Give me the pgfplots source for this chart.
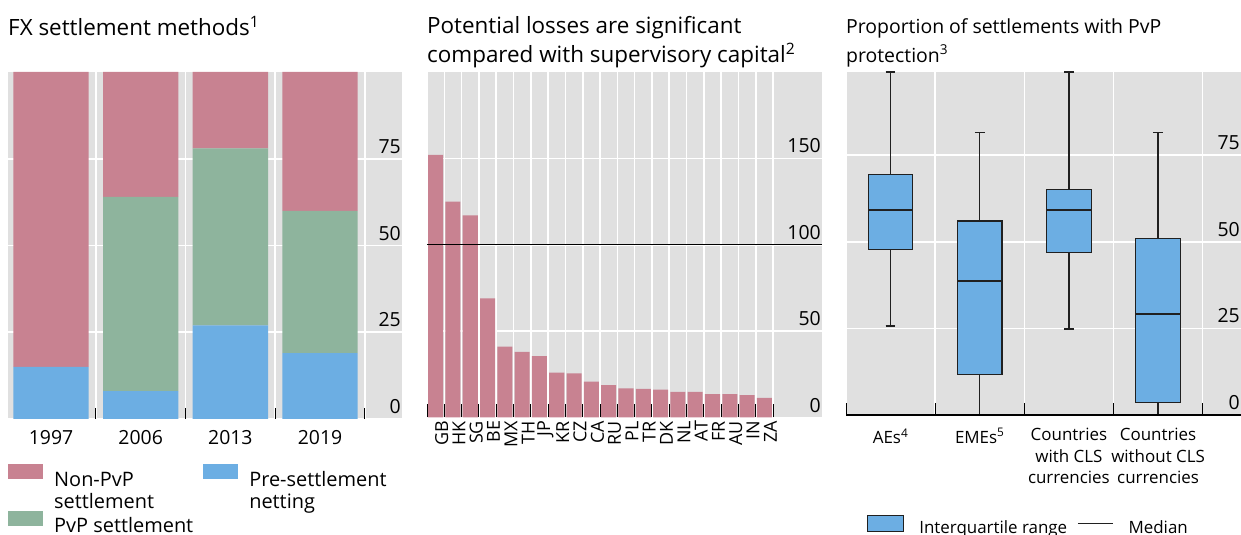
\documentclass[border=0pt]{standalone}
\usepackage{pgfplots}
\pgfplotsset{compat=1.18}
\usepgfplotslibrary{statistics}
\usepackage{fontspec}
\setmainfont{Open Sans}
\definecolor{cpink}{HTML}{C88291}
\definecolor{cgreen}{HTML}{8EB49D}
\definecolor{cblue}{HTML}{6CAEE3}
\definecolor{cbg}{HTML}{E0E0E0}
\definecolor{cdark}{HTML}{202020}
\newcommand{\fs}[2]{\fontsize{#1}{#2}\selectfont}
\newcommand{\ml}[1]{\begin{tabular}[t]{@{}l@{}}#1\end{tabular}}
\pgfplotsset{
  panel/.style={
    scale only axis, anchor=south west, clip=false,
    axis background/.style={fill=cbg},
    axis line style={draw=none},
    tick align=inside, xtick pos=bottom, ytick pos=right,
    major tick length=0pt, minor tick length=11bp,
    minor tick style={black, line width=0.9bp},
    ymajorgrids, xminorgrids,
    major grid style={white, line width=1.6bp},
    minor grid style={white, line width=1.6bp},
    yticklabel pos=right,
    yticklabel style={anchor=south east, inner xsep=1bp, inner ysep=5bp, font=\fs{19.5}{22}},
    /pgf/number format/assume math mode=true,
    title style={at={(0,1)}, anchor=base west, inner sep=0pt, align=left, font=\fs{22.5}{28.5}},
    legend style={draw=none, fill=none, inner sep=0pt, font=\fs{20}{22.5}},
    legend cell align=left,
  }
}
\begin{document}
\begin{tikzpicture}
\useasboundingbox (0,0) rectangle (1241bp,535bp);

% Panel 1
\begin{axis}[panel, at={(8bp,116bp)}, width=394bp, height=347bp,
  xmin=-0.48, xmax=3.914, ymin=0, ymax=100,
  ytick={0,25,50,75},
  xtick={0,1,2,3}, xticklabels={1997,2006,2013,2019},
  minor xtick={-0.5,0.5,1.5,2.5,3.5},
  xticklabel style={font=\fs{19.5}{22}, yshift=-8bp},
  ybar stacked, bar width=0.84,
  title={FX settlement methods\textsuperscript{1}},
  title style={yshift=31bp},
  legend columns=2,
  legend style={at={(0,-0.13)}, anchor=north west, row sep=21bp,
    /tikz/every even column/.append style={column sep=10bp},
    /tikz/every odd column/.append style={column sep=11bp},
    nodes={inner xsep=0pt}},
  legend image code/.code={\path[#1] (0bp,0bp) rectangle (35bp,15bp);},
]
\addplot[fill=cblue, draw=none, forget plot] coordinates {(0,15) (1,8) (2,27) (3,19)};
\addplot[fill=cgreen, draw=none, forget plot] coordinates {(0,0) (1,56) (2,51) (3,41)};
\addplot[fill=cpink, draw=none, forget plot] coordinates {(0,85) (1,36) (2,22) (3,40)};
\addlegendimage{fill=cpink, draw=none}
\addlegendentry{\ml{Non-PvP\\settlement}}
\addlegendimage{fill=cblue, draw=none}
\addlegendentry{\ml{Pre-settlement\\netting}}
\addlegendimage{fill=cgreen, draw=none}
\addlegendentry{PvP settlement}
\end{axis}

% Panel 2
\begin{axis}[panel, at={(427bp,117.5bp)}, width=395bp, height=345.5bp,
  xmin=-0.5, xmax=22.33, ymin=0, ymax=200,
  ytick={0,50,100,150},
  xtick={0,1,...,19},
  xticklabels={GB,HK,SG,BE,MX,TH,JP,KR,CZ,CA,RU,PL,TR,DK,NL,AT,FR,AU,IN,ZA},
  minor xtick={-0.5,0.5,...,19.5},
  minor tick length=13bp,
  xticklabel style={rotate=90, anchor=east, font=\fs{18}{20}, yshift=-6bp},
  title={Potential losses are significant\\compared with supervisory capital\textsuperscript{2}},
  title style={yshift=4bp},
]
\addplot[ybar, bar width=0.87, fill=cpink, draw=none] coordinates {
(0,152) (1,125) (2,117) (3,69) (4,41) (5,38) (6,35.5) (7,26) (8,25.5) (9,20.7)
(10,18.8) (11,16.9) (12,16.6) (13,16.2) (14,14.9) (15,14.8) (16,13.6) (17,13.6) (18,13) (19,11.4)};
\addplot[black, line width=1bp, sharp plot, no markers] coordinates {(-0.5,100) (22.33,100)};
\end{axis}

% Panel 3
\begin{axis}[panel, at={(846bp,120bp)}, width=395bp, height=343bp,
  xmin=-0.5, xmax=3.93, ymin=0, ymax=99,
  ytick={0,25,50,75},
  xtick={0,1,2,3},
  xticklabels={AEs\textsuperscript{4},EMEs\textsuperscript{5},{Countries\\with CLS\\currencies},{Countries\\without CLS\\currencies}},
  minor xtick={-0.5,0.5,1.5,2.5,3.5},
  minor tick length=12bp,
  xticklabel style={align=center, anchor=north, font=\fs{17}{21.5}, yshift=-10bp},
  title={Proportion of settlements with PvP\\protection\textsuperscript{3}},
  title style={yshift=4bp, font=\fs{19.5}{28.5}},
  boxplot/draw direction=y,
  boxplot/every median/.style={line width=2bp},
  legend columns=-1,
  legend style={at={(0.053,-0.29)}, anchor=north west, font=\fs{17}{20},
    nodes={inner xsep=0pt},
    /tikz/every even column/.append style={column sep=10bp},
    /tikz/every odd column/.append style={column sep=15bp}},
]
\addplot[boxplot prepared={draw position=0, lower whisker=25.7, lower quartile=47.8, median=59.1, upper quartile=69.4, upper whisker=99, box extend=0.5, whisker extend=0.11}, fill=cblue, draw=cdark, line width=1.2bp, forget plot] coordinates {};
\addplot[boxplot prepared={draw position=1, lower whisker=0, lower quartile=11.7, median=38.7, upper quartile=56, upper whisker=81.5, box extend=0.5, whisker extend=0.11}, fill=cblue, draw=cdark, line width=1.2bp, forget plot] coordinates {};
\addplot[boxplot prepared={draw position=2, lower whisker=24.8, lower quartile=46.9, median=59.1, upper quartile=65.2, upper whisker=99, box extend=0.5, whisker extend=0.11}, fill=cblue, draw=cdark, line width=1.2bp, forget plot] coordinates {};
\addplot[boxplot prepared={draw position=3, lower whisker=0, lower quartile=3.7, median=29.1, upper quartile=50.9, upper whisker=81.5, box extend=0.5, whisker extend=0.11}, fill=cblue, draw=cdark, line width=1.2bp, forget plot] coordinates {};
\addplot[black, line width=1.5bp, sharp plot, no markers, forget plot] coordinates {(-0.5,0) (3.93,0)};
\addlegendimage{legend image code/.code={\draw[fill=cblue, draw=cdark, line width=1.2bp] (0bp,-3bp) rectangle (36bp,13bp);}}
\addlegendentry{Interquartile range}
\addlegendimage{legend image code/.code={\draw[cdark, line width=1.3bp] (0bp,5bp) -- (35bp,5bp);}}
\addlegendentry{Median}
\end{axis}
\end{tikzpicture}
\end{document}
